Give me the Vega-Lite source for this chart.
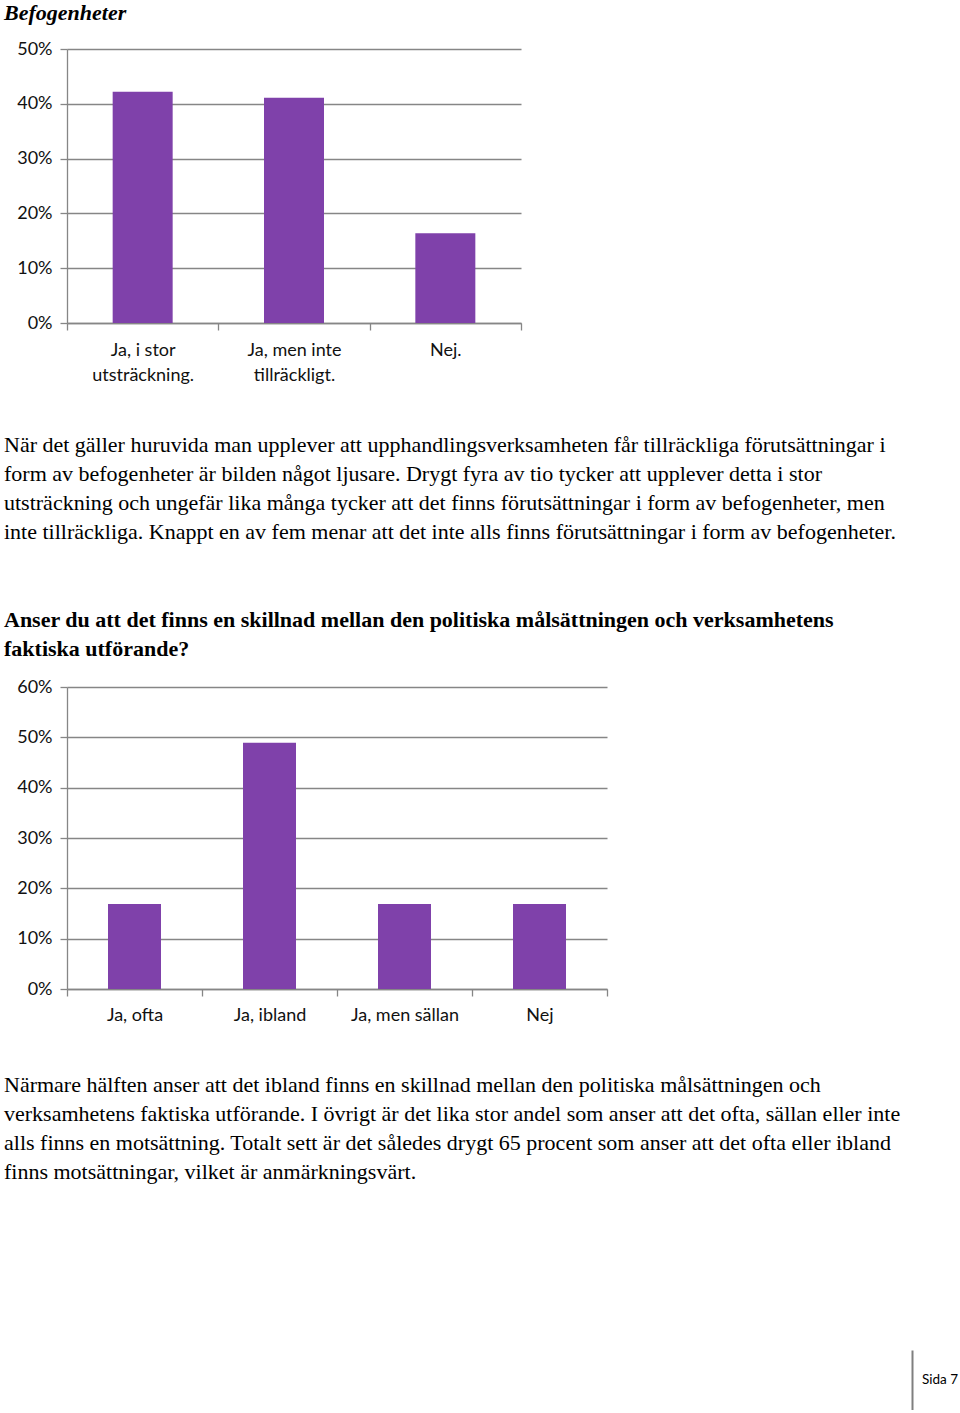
{
  "$schema": "https://vega.github.io/schema/vega-lite/v6.json",
  "background": "white",
  "padding": {"left": 4, "top": 2, "right": 0, "bottom": 0},
  "spacing": 50,
  "config": {
    "view": {"stroke": null},
    "font": "Lato",
    "axis": {
      "domainColor": "#868686",
      "domainWidth": 1.3,
      "tickColor": "#868686",
      "tickWidth": 1.3,
      "tickSize": 7,
      "gridColor": "#868686",
      "gridWidth": 1.3,
      "labelFont": "Lato",
      "labelFontSize": 18,
      "labelColor": "#111111",
      "title": null
    },
    "axisX": {"grid": false, "labelPadding": 11, "labelAngle": 0, "tickBand": "extent"},
    "axisY": {"grid": true, "labelPadding": 8, "format": ".0%"}
  },
  "vconcat": [
    {
      "title": {
        "text": "Befogenheter",
        "font": "Liberation Serif",
        "fontSize": 22,
        "fontStyle": "italic",
        "fontWeight": "bold",
        "color": "#000000",
        "anchor": "start",
        "frame": "group",
        "dx": -63,
        "offset": 15
      },
      "width": 454,
      "height": 274,
      "data": {
        "values": [
          {"svar": "Ja, i stor utsträckning.", "andel": 0.422},
          {"svar": "Ja, men inte tillräckligt.", "andel": 0.411},
          {"svar": "Nej.", "andel": 0.164}
        ]
      },
      "mark": {"type": "bar", "color": "#7f41aa", "width": 60},
      "encoding": {
        "x": {
          "field": "svar",
          "type": "nominal",
          "sort": null,
          "scale": {"paddingInner": 0, "paddingOuter": 0},
          "axis": {
            "labelLineHeight": 25,
            "labelExpr": "datum.label == 'Ja, i stor utsträckning.' ? ['Ja, i stor', 'utsträckning.'] : datum.label == 'Ja, men inte tillräckligt.' ? ['Ja, men inte', 'tillräckligt.'] : datum.label"
          }
        },
        "y": {
          "field": "andel",
          "type": "quantitative",
          "scale": {"domain": [0, 0.5]},
          "axis": {"values": [0, 0.1, 0.2, 0.3, 0.4, 0.5]}
        }
      }
    },
    {
      "title": {
        "text": [
          "När det gäller huruvida man upplever att upphandlingsverksamheten får tillräckliga förutsättningar i",
          "form av befogenheter är bilden något ljusare. Drygt fyra av tio tycker att upplever detta i stor",
          "utsträckning och ungefär lika många tycker att det finns förutsättningar i form av befogenheter, men",
          "inte tillräckliga. Knappt en av fem menar att det inte alls finns förutsättningar i form av befogenheter."
        ],
        "subtitle": [
          "Anser du att det finns en skillnad mellan den politiska målsättningen och verksamhetens",
          "faktiska utförande?"
        ],
        "font": "Liberation Serif",
        "fontSize": 22,
        "fontWeight": "normal",
        "color": "#000000",
        "lineHeight": 29,
        "subtitleFont": "Liberation Serif",
        "subtitleFontSize": 22,
        "subtitleFontWeight": "bold",
        "subtitleColor": "#000000",
        "subtitleLineHeight": 29,
        "subtitlePadding": 66,
        "anchor": "start",
        "frame": "group",
        "dx": -63,
        "offset": 17
      },
      "width": 540,
      "height": 302,
      "data": {
        "values": [
          {"svar": "Ja, ofta", "andel": 0.169},
          {"svar": "Ja, ibland", "andel": 0.489},
          {"svar": "Ja, men sällan", "andel": 0.169},
          {"svar": "Nej", "andel": 0.169}
        ]
      },
      "mark": {"type": "bar", "color": "#7f41aa", "width": 53},
      "encoding": {
        "x": {
          "field": "svar",
          "type": "nominal",
          "sort": null,
          "scale": {"paddingInner": 0, "paddingOuter": 0},
          "axis": {"labelPadding": 10}
        },
        "y": {
          "field": "andel",
          "type": "quantitative",
          "scale": {"domain": [0, 0.6]},
          "axis": {"values": [0, 0.1, 0.2, 0.3, 0.4, 0.5, 0.6]}
        }
      }
    },
    {
      "title": {
        "text": [
          "Närmare hälften anser att det ibland finns en skillnad mellan den politiska målsättningen och",
          "verksamhetens faktiska utförande. I övrigt är det lika stor andel som anser att det ofta, sällan eller inte",
          "alls finns en motsättning. Totalt sett är det således drygt 65 procent som anser att det ofta eller ibland",
          "finns motsättningar, vilket är anmärkningsvärt."
        ],
        "font": "Liberation Serif",
        "fontSize": 22,
        "fontWeight": "normal",
        "color": "#000000",
        "lineHeight": 29,
        "anchor": "start",
        "frame": "group",
        "dx": -63,
        "offset": 166
      },
      "width": 845,
      "height": 60,
      "data": {"values": [{"sida": "Sida 7"}]},
      "mark": {"type": "text", "font": "Lato", "fontSize": 13.5, "color": "#000000", "x": "width", "dx": 10, "align": "left"},
      "encoding": {
        "text": {"field": "sida", "type": "nominal"},
        "y": {
          "field": "sida",
          "type": "nominal",
          "axis": {"orient": "right", "labels": false, "ticks": false, "grid": false, "domainColor": "#7f7f7f", "domainWidth": 2, "minExtent": 0}
        }
      }
    }
  ]
}
